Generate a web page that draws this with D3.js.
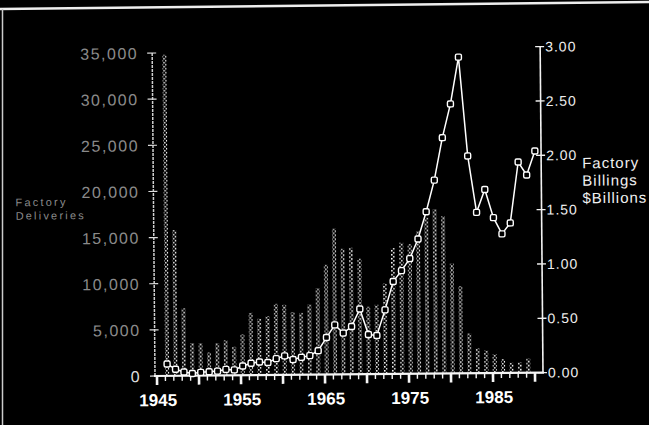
<!DOCTYPE html>
<html><head><meta charset="utf-8">
<script src="https://cdn.jsdelivr.net/npm/d3@7"></script>
<style>html,body{margin:0;padding:0;background:#000;} svg{display:block;}</style>
</head><body>
<svg id="c" width="649" height="425"></svg>
<script>
// ---- data ----
const deliveryYears = d3.range(1946, 1990);
const deliveries = [34800,15800,7300,3550,3500,2500,3500,3800,3100,4450,
  6750,6100,6400,7700,7600,6800,6700,7600,9350,11900,
  15800,13600,13700,12500,7300,7500,9800,13650,14200,14050,
  15450,16900,17800,17050,11900,9450,4300,2700,2450,2050,
  1500,1100,1150,1550];
const billingYears = d3.range(1946, 1991);
const billings = [0.11,0.06,0.035,0.02,0.03,0.035,0.04,0.055,0.05,0.085,
  0.11,0.12,0.115,0.15,0.175,0.14,0.16,0.175,0.22,0.34,
  0.456,0.38,0.44,0.60,0.365,0.355,0.59,0.85,0.95,1.06,
  1.24,1.49,1.78,2.17,2.48,2.91,2.00,1.48,1.69,1.43,
  1.28,1.38,1.94,1.82,2.04];
const leftTicks = [0,5000,10000,15000,20000,25000,30000,35000];
const leftTickLabels = ["0","5,000","10,000","15,000","20,000","25,000","30,000","35,000"];
const rightTicks = [0,0.5,1,1.5,2,2.5,3];
const rightTickLabels = ["0.00","0.50","1.00","1.50","2.00","2.50","3.00"];
const yearTicks = d3.range(1945, 1991);
const yearLabels = [1945,1955,1965,1975,1985];
const leftTitle = ["Factory","Deliveries"];
const rightTitle = ["Factory","Billings","$Billions"];

// ---- layout ----
const svg = d3.select("#c");
svg.append("rect").attr("width",649).attr("height",425).attr("fill","#000");
// scan border
svg.append("line").attr("x1",0).attr("y1",9).attr("x2",649).attr("y2",2)
  .attr("stroke","#eee").attr("stroke-width",2.5);
svg.append("line").attr("x1",2.5).attr("y1",9).attr("x2",2.5).attr("y2",425)
  .attr("stroke","#ccc").attr("stroke-width",1.5);

const defs = svg.append("defs");
const pat = defs.append("pattern").attr("id","dots").attr("patternUnits","userSpaceOnUse")
  .attr("width",4).attr("height",4);
pat.append("rect").attr("x",0).attr("y",0).attr("width",1.6).attr("height",1.6).attr("fill","#fff");
pat.append("rect").attr("x",2).attr("y",2).attr("width",1.6).attr("height",1.6).attr("fill","#ddd");

const g = svg.append("g").attr("transform","rotate(-0.5,155,376)");

const x = d3.scaleLinear().domain([1945,1990]).range([157,535]);
const off = 1.8;
const yL = d3.scaleLinear().domain([0,35000]).range([376,53]);
const yR = d3.scaleLinear().domain([0,3]).range([376,50]);
const font = "'Liberation Sans', Arial, sans-serif";

// bars
g.selectAll("rect.bar").data(deliveryYears).join("rect").attr("class","bar")
  .attr("x", (d)=> x(d)+off-2).attr("width",4)
  .attr("y", (d,i)=> yL(deliveries[i]))
  .attr("height", (d,i)=> yL(0)-yL(deliveries[i]))
  .attr("fill","url(#dots)");

// left axis
g.append("line").attr("x1",155).attr("x2",155).attr("y1",yL(35000)).attr("y2",yL(0))
  .attr("stroke","#cfcfcf").attr("stroke-width",1.5).attr("stroke-dasharray","3,1");
g.selectAll("line.lt").data(leftTicks).join("line").attr("class","lt")
  .attr("x1",150).attr("x2",159).attr("y1",d=>yL(d)).attr("y2",d=>yL(d))
  .attr("stroke","#ddd").attr("stroke-width",1.2);
g.selectAll("text.ll").data(leftTicks).join("text").attr("class","ll")
  .attr("x",141).attr("y",d=>yL(d)+6).attr("text-anchor","end")
  .attr("font-family",font).attr("font-size",16).attr("letter-spacing",1.5)
  .attr("fill",(d)=> d===0 ? "#ddd" : "#8a8a8a")
  .text((d,i)=>leftTickLabels[i]);
g.selectAll("text.lt2").data(leftTitle).join("text").attr("class","lt2")
  .attr("x",17).attr("y",(d,i)=>205+i*13.5)
  .attr("font-family",font).attr("font-size",11).attr("letter-spacing",2.2)
  .attr("fill","#8a8a8a").text(d=>d);

// right axis
g.append("line").attr("x1",543).attr("x2",543).attr("y1",yR(3)).attr("y2",yR(0))
  .attr("stroke","#f2f2f2").attr("stroke-width",1.6);
g.selectAll("line.rt").data(rightTicks).join("line").attr("class","rt")
  .attr("x1",538).attr("x2",547).attr("y1",d=>yR(d)).attr("y2",d=>yR(d))
  .attr("stroke","#f2f2f2").attr("stroke-width",1.4);
g.selectAll("text.rl").data(rightTicks).join("text").attr("class","rl")
  .attr("x",548).attr("y",d=>yR(d)+5)
  .attr("font-family",font).attr("font-size",14).attr("letter-spacing",1)
  .attr("fill","#eee").text((d,i)=>rightTickLabels[i]);
g.selectAll("text.rt2").data(rightTitle).join("text").attr("class","rt2")
  .attr("x",584).attr("y",(d,i)=>172+i*17.5)
  .attr("font-family",font).attr("font-size",15).attr("letter-spacing",1)
  .attr("fill","#f0f0f0").text(d=>d);

// x axis
g.append("line").attr("x1",154).attr("x2",544).attr("y1",376).attr("y2",376)
  .attr("stroke","#f5f5f5").attr("stroke-width",2.2);
g.selectAll("line.xt").data(yearTicks).join("line").attr("class","xt")
  .attr("x1",d=>x(d)).attr("x2",d=>x(d)).attr("y1",376)
  .attr("y2",d=> d%5===0 ? 385 : 381)
  .attr("stroke","#f5f5f5").attr("stroke-width",d=> d%5===0 ? 2.6 : 1.4);
g.selectAll("text.xl").data(yearLabels).join("text").attr("class","xl")
  .attr("x",d=>x(d)+1).attr("y",406).attr("text-anchor","middle")
  .attr("font-family",font).attr("font-size",17).attr("font-weight","bold")
  .attr("fill","#fff").text(d=>d);

// billings line
const line = d3.line().x((d)=>x(d)+off).y((d,i)=>yR(billings[i]));
g.append("path").datum(billingYears).attr("d",line)
  .attr("fill","none").attr("stroke","#fff").attr("stroke-width",1.5);
g.selectAll("rect.mk").data(billingYears).join("rect").attr("class","mk")
  .attr("x",d=>x(d)+off-3).attr("y",(d,i)=>yR(billings[i])-3)
  .attr("width",6).attr("height",6).attr("rx",1.5)
  .attr("fill","#000").attr("stroke","#fff").attr("stroke-width",1.4);
</script>
</body></html>
